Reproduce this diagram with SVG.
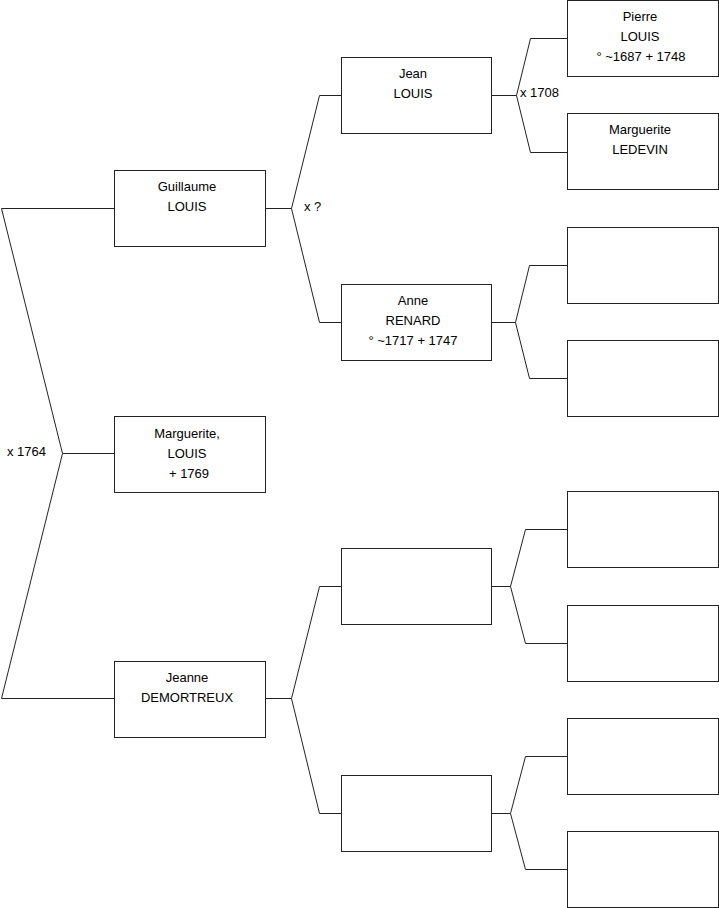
<svg xmlns="http://www.w3.org/2000/svg" width="719" height="908" viewBox="0 0 719 908">
<style>
.b{fill:#fff;stroke:#222;stroke-width:1}
.c{fill:none;stroke:#222;stroke-width:1}
text{font-family:"Liberation Sans",Arial,sans-serif;font-size:13px;fill:#000}
.m{text-anchor:middle}
</style>
<rect width="719" height="908" fill="#fff"/>
<g id="connectors">
<polyline class="c" points="114.5,208.5 1.5,208.5 62.5,453.5 1.5,698.5 114.5,698.5"/>
<line class="c" x1="62.5" y1="453.5" x2="114.5" y2="453.5"/>
<polyline class="c" points="341.5,95.5 319.5,95.5 291.5,208.5 319.5,322.5 341.5,322.5"/>
<line class="c" x1="265.5" y1="208.5" x2="291.5" y2="208.5"/>
<polyline class="c" points="567.5,38.5 530.5,38.5 516.5,95.5 530.5,152.5 567.5,152.5"/>
<line class="c" x1="491.5" y1="95.5" x2="516.5" y2="95.5"/>
<polyline class="c" points="567.5,265.5 529.5,265.5 515.5,322.5 529.5,378.5 567.5,378.5"/>
<line class="c" x1="491.5" y1="322.5" x2="515.5" y2="322.5"/>
<polyline class="c" points="341.5,586.5 319.5,586.5 291.5,698.5 319.5,813.5 341.5,813.5"/>
<line class="c" x1="265.5" y1="698.5" x2="291.5" y2="698.5"/>
<polyline class="c" points="567.5,529.5 525.5,529.5 510.5,586.5 525.5,643.5 567.5,643.5"/>
<line class="c" x1="491.5" y1="586.5" x2="510.5" y2="586.5"/>
<polyline class="c" points="567.5,756.5 525.5,756.5 510.5,813.5 525.5,869.5 567.5,869.5"/>
<line class="c" x1="491.5" y1="813.5" x2="510.5" y2="813.5"/>
<text x="7" y="456">x 1764</text>
<text x="304" y="211">x ?</text>
<text x="520" y="97">x 1708</text>
</g>
<g id="guillaume"><rect class="b" x="114.5" y="170.5" width="151" height="76"/><text class="m" x="187" y="191">Guillaume</text><text class="m" x="187" y="211">LOUIS</text></g>
<g id="marguerite"><rect class="b" x="114.5" y="416.5" width="151" height="76"/><text class="m" x="187" y="438">Marguerite,</text><text class="m" x="187" y="458">LOUIS</text><text class="m" x="189" y="478">+ 1769</text></g>
<g id="jeanne"><rect class="b" x="114.5" y="661.5" width="151" height="76"/><text class="m" x="187" y="682">Jeanne</text><text class="m" x="187" y="702">DEMORTREUX</text></g>
<g id="jean"><rect class="b" x="341.5" y="57.5" width="150" height="76"/><text class="m" x="413" y="78">Jean</text><text class="m" x="413" y="98">LOUIS</text></g>
<g id="anne"><rect class="b" x="341.5" y="284.5" width="150" height="76"/><text class="m" x="413" y="305">Anne</text><text class="m" x="413" y="325">RENARD</text><text class="m" x="413" y="345">° ~1717 + 1747</text></g>
<g id="p3"><rect class="b" x="341.5" y="548.5" width="150" height="76"/></g>
<g id="p4"><rect class="b" x="341.5" y="775.5" width="150" height="76"/></g>
<g id="pierre"><rect class="b" x="567.5" y="0.5" width="151" height="76"/><text class="m" x="640" y="21">Pierre</text><text class="m" x="640" y="41">LOUIS</text><text class="m" x="641" y="61">° ~1687 + 1748</text></g>
<g id="margueriteL"><rect class="b" x="567.5" y="113.5" width="151" height="76"/><text class="m" x="640" y="134">Marguerite</text><text class="m" x="640" y="154">LEDEVIN</text></g>
<g id="g7"><rect class="b" x="567.5" y="227.5" width="151" height="76"/></g>
<g id="g8"><rect class="b" x="567.5" y="340.5" width="151" height="76"/></g>
<g id="g9"><rect class="b" x="567.5" y="491.5" width="151" height="76"/></g>
<g id="g10"><rect class="b" x="567.5" y="605.5" width="151" height="76"/></g>
<g id="g11"><rect class="b" x="567.5" y="718.5" width="151" height="76"/></g>
<g id="g12"><rect class="b" x="567.5" y="831.5" width="151" height="76"/></g>
</svg>
